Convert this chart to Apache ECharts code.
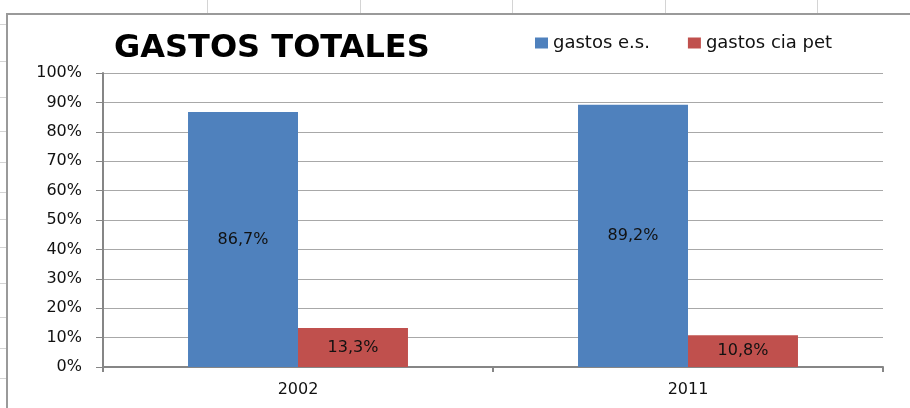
<!DOCTYPE html>
<html>
<head>
<meta charset="utf-8">
<script src="https://cdn.jsdelivr.net/npm/echarts@6/dist/echarts.min.js"></script>
<style>html,body{margin:0;padding:0;background:#fff;}#c{width:910px;height:408px;}</style>
</head>
<body>
<div id="c"></div>
<script>
var categories = ['2002', '2011'];
var gastosES = [86.7, 89.2];
var gastosCiaPet = [13.3, 10.8];
var seriesNames = ['gastos e.s.', 'gastos cia pet'];
var titleText = 'GASTOS TOTALES';

var chart = echarts.init(document.getElementById('c'), null, {renderer: 'canvas'});
var font = 'DejaVu Sans';
function pct(p) { return String(p.value).replace('.', ',') + '%'; }

var sheetCols = [207, 360, 512, 665, 817];
var sheetRows = [24, 61, 97, 131, 162, 192, 219, 247, 283, 317, 348, 378];
var bg = [];
sheetCols.forEach(function (x) {
  bg.push({type: 'line', silent: true, z: -10, shape: {x1: x + 0.5, y1: 0, x2: x + 0.5, y2: 13}, style: {stroke: '#d4d4d4', lineWidth: 1}});
});
sheetRows.forEach(function (y) {
  bg.push({type: 'line', silent: true, z: -10, shape: {x1: 0, y1: y + 0.5, x2: 6, y2: y + 0.5}, style: {stroke: '#d4d4d4', lineWidth: 1}});
});
bg.push({type: 'rect', silent: true, z: -9, shape: {x: 7, y: 14, width: 920, height: 420}, style: {fill: 'none', stroke: '#9a9a9a', lineWidth: 2}});

chart.setOption({
  animation: false,
  backgroundColor: '#fff',
  title: {
    text: titleText,
    left: 109,
    top: 28,
    textStyle: {fontFamily: font, fontWeight: 'bold', fontSize: 32, color: '#000'}
  },
  legend: {
    data: seriesNames,
    left: 530,
    top: 29,
    icon: 'rect',
    itemWidth: 13,
    itemHeight: 11,
    itemGap: 38,
    textStyle: {fontFamily: font, fontSize: 18, color: '#111'}
  },
  grid: {left: 103, right: 27, top: 73, bottom: 41, containLabel: false},
  xAxis: {
    type: 'category',
    data: categories,
    boundaryGap: true,
    axisLine: {lineStyle: {color: '#868686', width: 2}},
    axisTick: {show: true, alignWithLabel: false, length: 5, lineStyle: {color: '#868686', width: 2}},
    axisLabel: {fontFamily: font, fontSize: 16, color: '#111', margin: 15},
    splitLine: {show: false}
  },
  yAxis: {
    type: 'value',
    min: 0,
    max: 100,
    interval: 10,
    axisLine: {show: true, lineStyle: {color: '#868686', width: 2}},
    axisTick: {show: true, length: 7, lineStyle: {color: '#868686', width: 1}},
    axisLabel: {fontFamily: font, fontSize: 16, color: '#111', margin: 21, formatter: '{value}%'},
    splitLine: {show: true, lineStyle: {color: '#a8a8a8', width: 1}}
  },
  series: [
    {
      name: seriesNames[0],
      type: 'bar',
      data: gastosES,
      barGap: '0%',
      barCategoryGap: '43.6%',
      itemStyle: {color: '#4F81BD'},
      label: {show: true, position: 'inside', formatter: pct, fontFamily: font, fontSize: 16, color: '#111'}
    },
    {
      name: seriesNames[1],
      type: 'bar',
      data: gastosCiaPet,
      itemStyle: {color: '#C0504D'},
      label: {show: true, position: 'inside', formatter: pct, fontFamily: font, fontSize: 16, color: '#111'}
    }
  ],
  graphic: bg
});
</script>
</body>
</html>
